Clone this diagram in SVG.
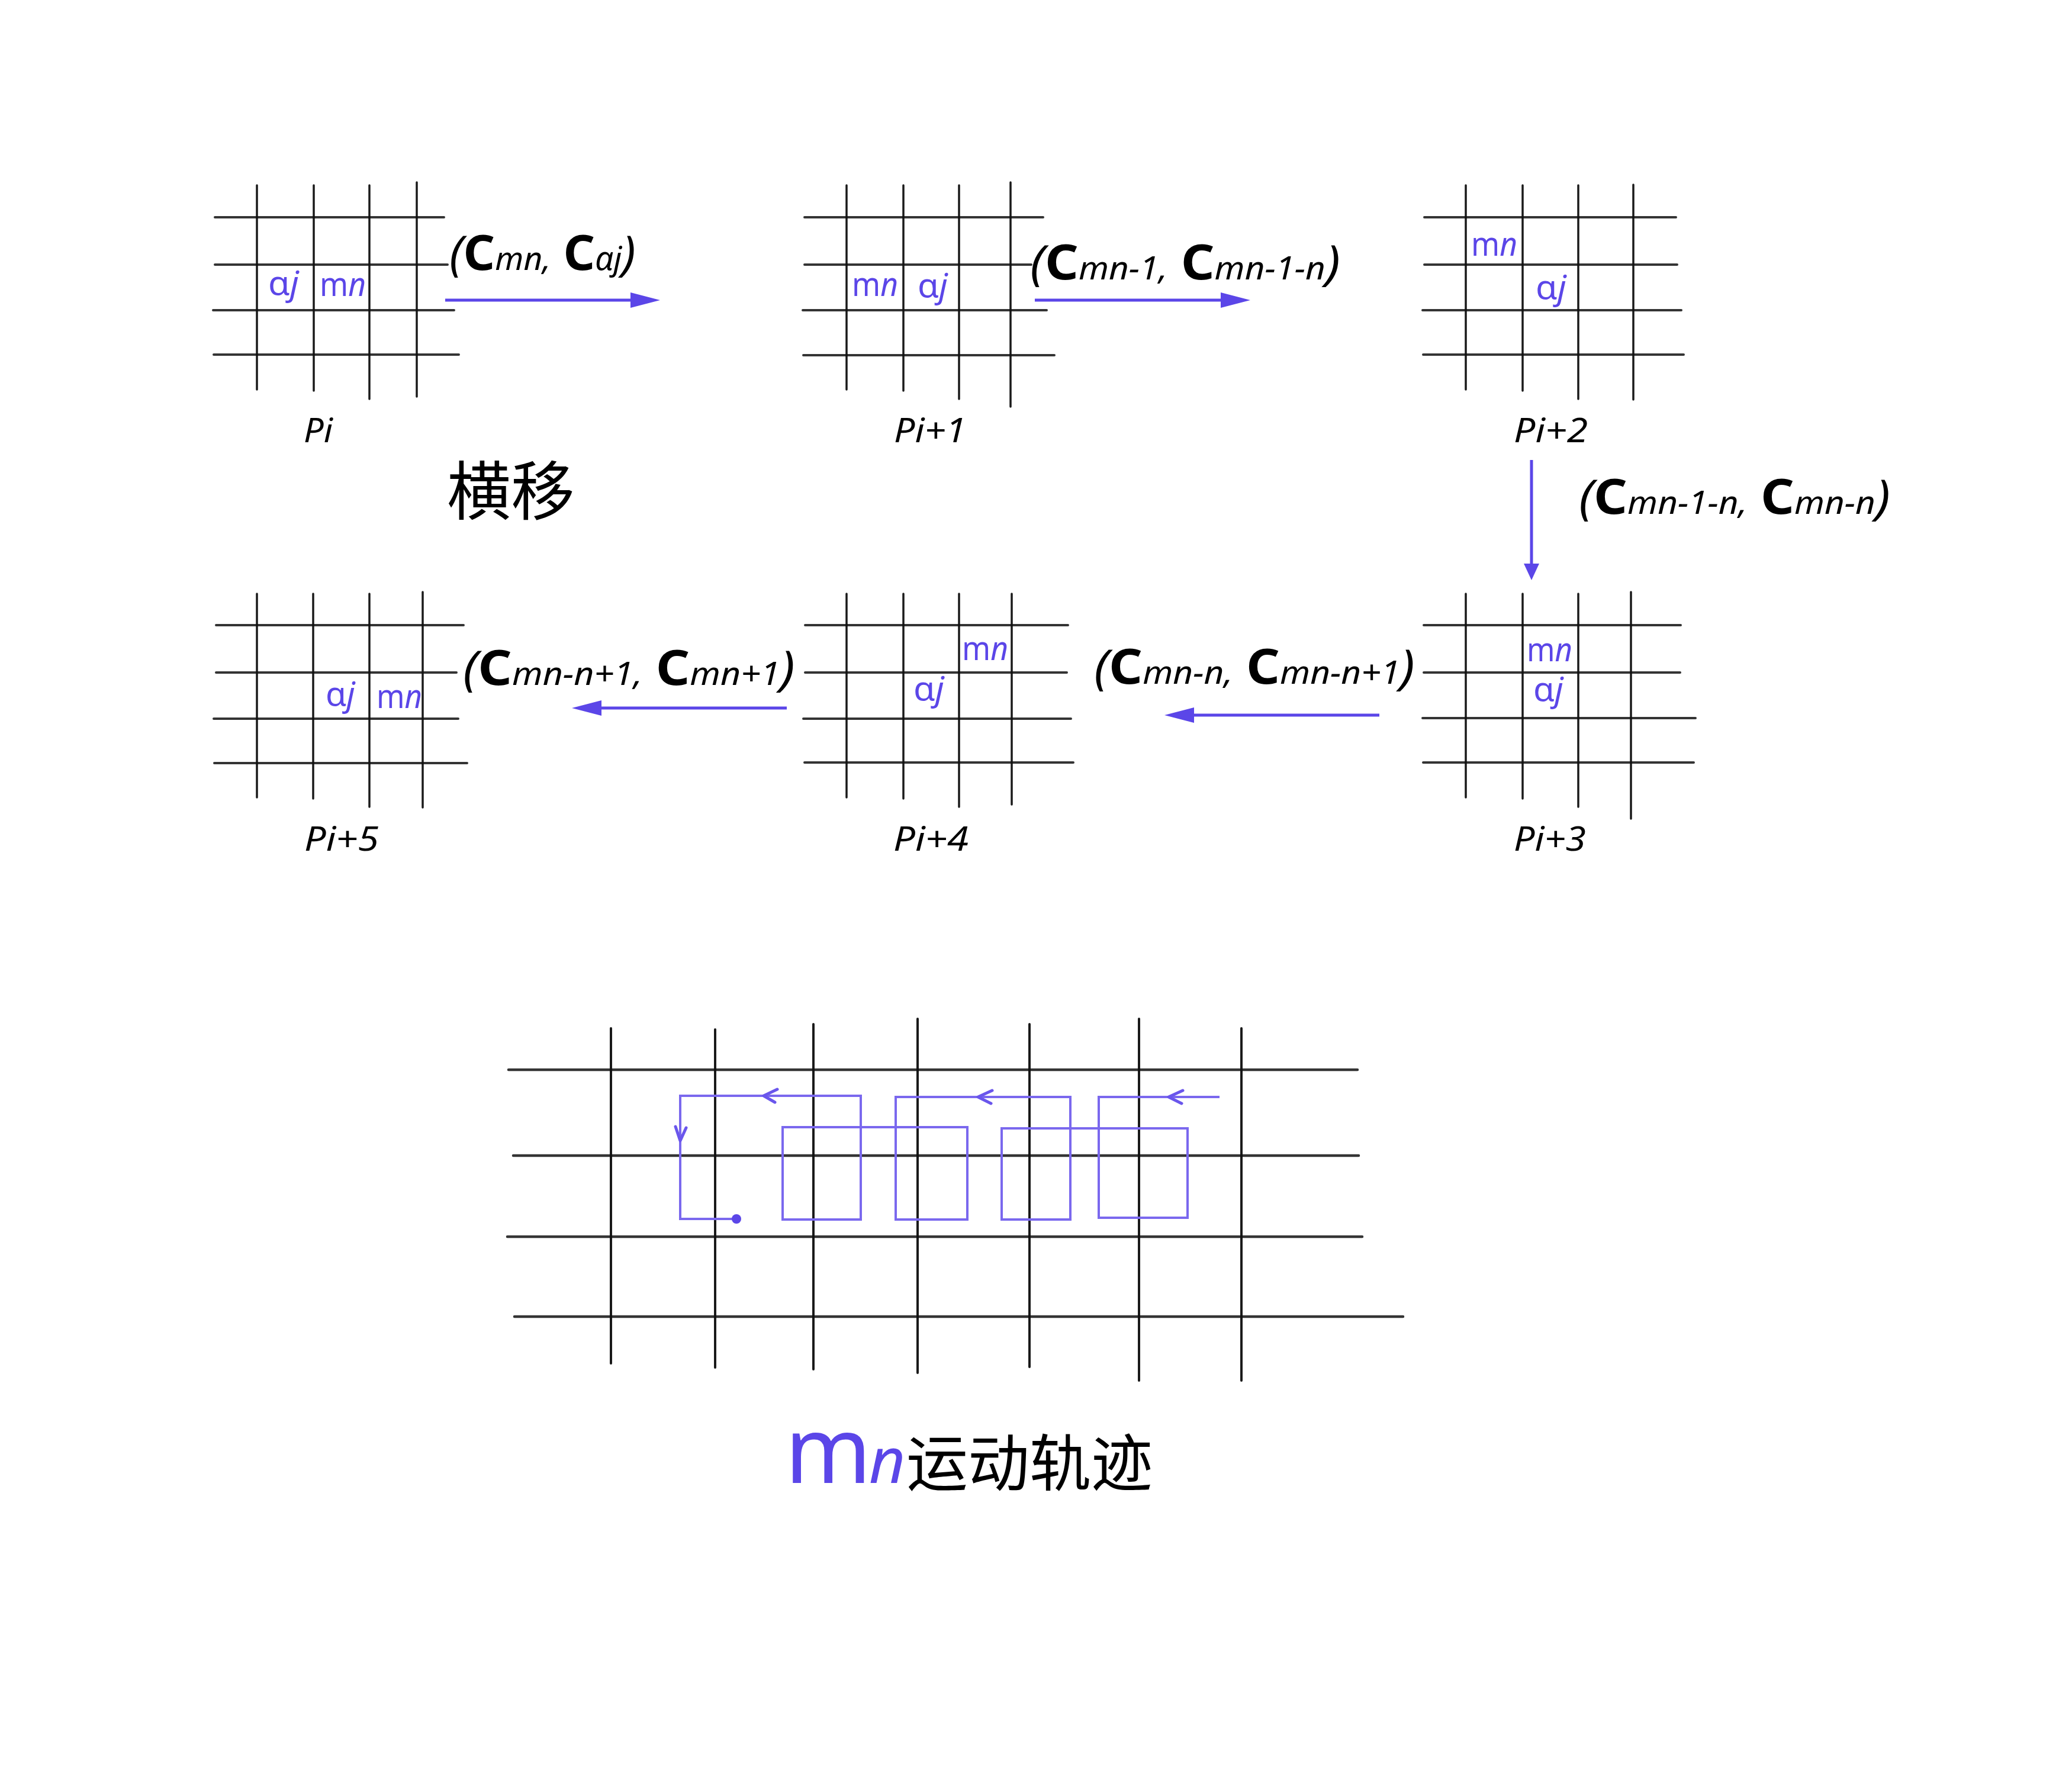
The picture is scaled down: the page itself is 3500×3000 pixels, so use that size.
<svg xmlns="http://www.w3.org/2000/svg" width="3500" height="3000" viewBox="0 0 3500 3000">
<style>
.bg{fill:#ffffff}
.v{fill:none;stroke:#1a1a1a;stroke-width:3.5;stroke-linecap:round}
.h{fill:none;stroke:#111;stroke-opacity:0.85;stroke-width:4;stroke-linecap:round}
.bv{fill:none;stroke:#1a1a1a;stroke-width:4;stroke-linecap:round}
.bh{fill:none;stroke:#111;stroke-opacity:0.85;stroke-width:4.5;stroke-linecap:round}
.pl{font-family:"Noto Sans","Open Sans",sans-serif;font-size:57px;fill:#5B46E8}
.it{font-style:italic}
.pn{font-family:"Noto Sans","Open Sans",sans-serif;font-size:56px;font-style:italic;fill:#000}
.lbl{font-family:"Noto Sans","Open Sans",sans-serif;font-size:80px;font-style:italic;fill:#000}
.C{font-weight:bold;font-style:normal;font-size:82px}
.sub{font-size:54px}
.arr{fill:none;stroke:#5B46E8;stroke-width:5}
.trail{fill:none;stroke:#7A68EE;stroke-width:4;stroke-linejoin:miter}
.chev{fill:none;stroke:#6A56EC;stroke-width:5;stroke-linecap:round;stroke-linejoin:round}
.cjk{font-family:"Noto Sans CJK SC",sans-serif;fill:#000}
</style>
<defs>
<marker id="ah" markerUnits="userSpaceOnUse" markerWidth="50" markerHeight="26" refX="0" refY="13" orient="auto" viewBox="0 0 50 26">
<path d="M0,0 L50,13 L0,26 z" fill="#5B46E8"/>
</marker>
<marker id="ahs" markerUnits="userSpaceOnUse" markerWidth="28" markerHeight="26" refX="0" refY="13" orient="auto" viewBox="0 0 28 26">
<path d="M0,0 L28,13 L0,26 z" fill="#5B46E8"/>
</marker>
</defs>
<rect class="bg" x="0" y="0" width="3500" height="3000"/>

<g id="node-Pi">
<path class="v" d="M434 313V658M530 313V660M624 313V674M704 308V670"/>
<path class="h" d="M363 367H701M674 367H750M363 447H701M674 447H756M360 524H701M674 524H767M361 599H701M674 599H775"/>
<text class="pl" x="453" y="498" textLength="52" lengthAdjust="spacingAndGlyphs">α<tspan class="it">j</tspan></text>
<text class="pl" x="540" y="500" textLength="78" lengthAdjust="spacingAndGlyphs">m<tspan class="it">n</tspan></text>
<text class="pn" x="513" y="747" textLength="49" lengthAdjust="spacingAndGlyphs">Pi</text>
</g>

<g id="node-Pi1">
<path class="v" d="M1430 313V658M1526 313V660M1620 313V674M1707 308V687"/>
<path class="h" d="M1359 367H1704M1679 367H1762M1359 447H1704M1679 447H1742M1356 524H1704M1672 524H1768M1357 600H1704M1664 600H1781"/>
<text class="pl" x="1439" y="500" textLength="78" lengthAdjust="spacingAndGlyphs">m<tspan class="it">n</tspan></text>
<text class="pl" x="1550" y="502" textLength="51" lengthAdjust="spacingAndGlyphs">α<tspan class="it">j</tspan></text>
<text class="pn" x="1510" y="747" textLength="122" lengthAdjust="spacingAndGlyphs">Pi+1</text>
</g>

<g id="node-Pi2">
<path class="v" d="M2476 313V658M2572 313V660M2666 313V674M2759 312V675"/>
<path class="h" d="M2406 367H2743M2730 367H2831M2406 447H2743M2728 447H2833M2403 524H2743M2735 524H2840M2404 599H2752M2745 599H2844"/>
<text class="pl" x="2485" y="432" textLength="78" lengthAdjust="spacingAndGlyphs">m<tspan class="it">n</tspan></text>
<text class="pl" x="2594" y="505" textLength="52" lengthAdjust="spacingAndGlyphs">α<tspan class="it">j</tspan></text>
<text class="pn" x="2557" y="747" textLength="125" lengthAdjust="spacingAndGlyphs">Pi+2</text>
</g>

<g id="node-Pi3">
<path class="v" d="M2476 1003V1347M2572 1003V1349M2666 1003V1363M2755 1000V1383"/>
<path class="h" d="M2405 1056H2743M2721 1056H2839M2405 1136H2743M2721 1136H2838M2403 1213H2746M2724 1213H2864M2404 1288H2752M2739 1288H2861"/>
<text class="pl" x="2579" y="1117" textLength="77" lengthAdjust="spacingAndGlyphs">m<tspan class="it">n</tspan></text>
<text class="pl" x="2590" y="1184" textLength="51" lengthAdjust="spacingAndGlyphs">α<tspan class="it">j</tspan></text>
<text class="pn" x="2557" y="1437" textLength="122" lengthAdjust="spacingAndGlyphs">Pi+3</text>
</g>

<g id="node-Pi4">
<path class="v" d="M1430 1003V1347M1526 1003V1349M1620 1003V1363M1709 1003V1359"/>
<path class="h" d="M1360 1056H1708M1682 1056H1804M1360 1136H1706M1695 1136H1802M1357 1214H1706M1693 1214H1809M1359 1288H1708M1693 1288H1813"/>
<text class="pl" x="1625" y="1115" textLength="78" lengthAdjust="spacingAndGlyphs">m<tspan class="it">n</tspan></text>
<text class="pl" x="1543" y="1183" textLength="52" lengthAdjust="spacingAndGlyphs">α<tspan class="it">j</tspan></text>
<text class="pn" x="1509" y="1437" textLength="127" lengthAdjust="spacingAndGlyphs">Pi+4</text>
</g>

<g id="node-Pi5">
<path class="v" d="M434 1003V1347M529 1003V1349M624 1003V1363M714 1000V1364"/>
<path class="h" d="M365 1056H700M692 1056H783M365 1136H700M692 1136H771M361 1214H700M694 1214H774M362 1289H706M697 1289H789"/>
<text class="pl" x="550" y="1192" textLength="50" lengthAdjust="spacingAndGlyphs">α<tspan class="it">j</tspan></text>
<text class="pl" x="636" y="1196" textLength="77" lengthAdjust="spacingAndGlyphs">m<tspan class="it">n</tspan></text>
<text class="pn" x="514" y="1437" textLength="126" lengthAdjust="spacingAndGlyphs">Pi+5</text>
</g>

<g id="connectors">
<path class="arr" d="M752 507H1065" marker-end="url(#ah)"/>
<path class="arr" d="M1748 507H2062" marker-end="url(#ah)"/>
<path class="arr" d="M2587 777V952" stroke-width="4" marker-end="url(#ahs)"/>
<path class="arr" d="M2330 1208H2017" marker-end="url(#ah)"/>
<path class="arr" d="M1329 1196H1016" marker-end="url(#ah)"/>
<text class="lbl" x="759" y="456" textLength="315" lengthAdjust="spacingAndGlyphs">(<tspan class="C">C</tspan><tspan class="sub">mn,</tspan> <tspan class="C">C</tspan><tspan class="sub">αj</tspan>)</text>
<text class="lbl" x="1740" y="472" textLength="524" lengthAdjust="spacingAndGlyphs">(<tspan class="C">C</tspan><tspan class="sub">mn-1,</tspan> <tspan class="C">C</tspan><tspan class="sub">mn-1-n</tspan>)</text>
<text class="lbl" x="2667" y="868" textLength="526" lengthAdjust="spacingAndGlyphs">(<tspan class="C">C</tspan><tspan class="sub">mn-1-n,</tspan> <tspan class="C">C</tspan><tspan class="sub">mn-n</tspan>)</text>
<text class="lbl" x="1848" y="1155" textLength="542" lengthAdjust="spacingAndGlyphs">(<tspan class="C">C</tspan><tspan class="sub">mn-n,</tspan> <tspan class="C">C</tspan><tspan class="sub">mn-n+1</tspan>)</text>
<text class="lbl" x="782" y="1157" textLength="561" lengthAdjust="spacingAndGlyphs">(<tspan class="C">C</tspan><tspan class="sub">mn-n+1,</tspan> <tspan class="C">C</tspan><tspan class="sub">mn+1</tspan>)</text>
</g>

<text class="cjk" x="755" y="869" font-size="108">横移</text>

<g id="trajectory">
<path class="bv" d="M1032 1737V2303M1208 1739V2310M1374 1730V2313M1550 1721V2319M1739 1730V2309M1924 1721V2332M2097 1737V2332"/>
<path class="bh" d="M859 1807H2293M2218 1807H2293M867 1952H2295M857 2089H2301M869 2224H2330M2309 2224H2370"/>
<path class="trail" d="M2060 1853H1856V2057H2006V1906H1692V2060H1808V1853H1513V2060H1634V1904H1322V2060H1454V1851H1149V2059H1244"/>
<path class="chev" d="M1998 1842L1974 1853L1996 1864M1676 1842L1652 1853L1674 1864M1313 1840L1290 1851L1309 1862M1141 1903L1149 1927L1159 1905"/>
<circle cx="1244" cy="2059" r="8" fill="#5B46E8"/>
</g>

<g id="caption">
<text x="1326" y="2505" font-family="Noto Sans, Open Sans, sans-serif" font-size="156" fill="#5B46E8">m</text>
<text x="1468" y="2505" font-family="Noto Sans, Open Sans, sans-serif" font-size="106" font-style="italic" fill="#5B46E8">n</text>
<text class="cjk" x="1531" y="2510" font-size="104">运动轨迹</text>
</g>
</svg>
